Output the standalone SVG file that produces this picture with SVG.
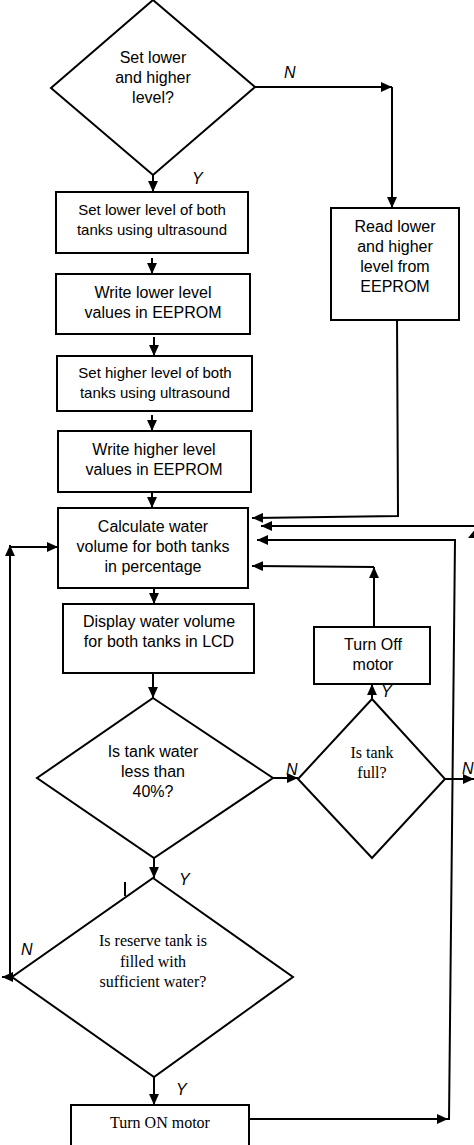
<svg xmlns="http://www.w3.org/2000/svg" width="474" height="1145" viewBox="0 0 474 1145">
<style>
.shape{fill:#fff;stroke:#000;stroke-width:2}
.t{font-family:"Liberation Sans",Arial,sans-serif;font-size:16px;fill:#000;text-anchor:middle}
.t15{font-size:15px}
.s{font-family:"Liberation Serif","Times New Roman",serif;font-size:16px;fill:#000;text-anchor:middle}
.lbl{font-family:"Liberation Sans",Arial,sans-serif;font-size:16px;font-style:italic;fill:#000}
.c{fill:none;stroke:#000;stroke-width:2}
</style>
<defs>
<marker id="a" viewBox="0 0 10 9" refX="10" refY="4.5" markerWidth="11" markerHeight="10" markerUnits="userSpaceOnUse" orient="auto">
<path d="M0,0 L10,4.5 L0,9 z" fill="#000"/>
</marker>
</defs>
<rect width="474" height="1145" fill="#fff"/>
<g id="connectors">
<path class="c" d="M153,175 L153,192" marker-end="url(#a)"/>
<path class="c" d="M255,87 L392,87" marker-end="url(#a)"/>
<path class="c" d="M392,87 L392,208" marker-end="url(#a)"/>
<path class="c" d="M152,258 L152,274" marker-end="url(#a)"/>
<path class="c" d="M154,337 L154,356" marker-end="url(#a)"/>
<path class="c" d="M152,415 L152,431" marker-end="url(#a)"/>
<path class="c" d="M152,492 L152,508" marker-end="url(#a)"/>
<path class="c" d="M397,315 L398,516 L252,518" marker-end="url(#a)"/>
<path class="c" d="M476,526 L261,526" marker-end="url(#a)"/>
<polygon points="476,528 468,538 484,538" fill="#000"/>
<path class="c" d="M445,779 L474,779" marker-end="url(#a)"/>
<path class="c" d="M449,1120 L455,540 L257,540" marker-end="url(#a)"/>
<path class="c" d="M374,627 L374,567" marker-end="url(#a)"/>
<path class="c" d="M374,567 L252,566" marker-end="url(#a)"/>
<path class="c" d="M10,977 L10,545" marker-end="url(#a)"/>
<path class="c" d="M10,547 L58,547" marker-end="url(#a)"/>
<path class="c" d="M154,588 L154,604" marker-end="url(#a)"/>
<path class="c" d="M153,673 L153,698" marker-end="url(#a)"/>
<path class="c" d="M273,778 L298,778" marker-end="url(#a)"/>
<path class="c" d="M372,699 L372,684" marker-end="url(#a)"/>
<path class="c" d="M154,858 L154,878" marker-end="url(#a)"/>
<path class="c" d="M12,977 L2,977" marker-end="url(#a)"/>
<path class="c" d="M154,1077 L154,1105" marker-end="url(#a)"/>
<path class="c" d="M249,1119 L448,1119" marker-end="url(#a)"/>
<path class="c" d="M125,882 L125,896" />
<text class="lbl" x="284" y="78">N</text>
<text class="lbl" x="192" y="184">Y</text>
<text class="lbl" x="286" y="775">N</text>
<text class="lbl" x="381" y="697">Y</text>
<text class="lbl" x="462" y="774">N</text>
<text class="lbl" x="179" y="885">Y</text>
<text class="lbl" x="21" y="955">N</text>
<text class="lbl" x="176" y="1095">Y</text>
</g>
<g id="d1">
<polygon class="shape" points="153,0 255,87 153,175 51,88"/>
<text class="t" x="153" y="63">Set lower</text>
<text class="t" x="153" y="83">and higher</text>
<text class="t" x="153" y="103">level?</text>
</g>
<g id="b1">
<rect class="shape" x="56" y="192" width="192" height="61"/>
<text class="t t15" x="152" y="215">Set lower level of both</text>
<text class="t t15" x="152" y="235">tanks using ultrasound</text>
</g>
<g id="b2">
<rect class="shape" x="56" y="274" width="194" height="60"/>
<text class="t" x="153" y="298">Write lower level</text>
<text class="t" x="153" y="318">values in EEPROM</text>
</g>
<g id="b3">
<rect class="shape" x="57" y="356" width="195" height="55"/>
<text class="t t15" x="155" y="378">Set higher level of both</text>
<text class="t t15" x="155" y="398">tanks using ultrasound</text>
</g>
<g id="b4">
<rect class="shape" x="58" y="431" width="193" height="61"/>
<text class="t" x="154" y="455">Write higher level</text>
<text class="t" x="154" y="475">values in EEPROM</text>
</g>
<g id="read">
<rect class="shape" x="331" y="208" width="128" height="112"/>
<text class="t" x="395" y="232">Read lower</text>
<text class="t" x="395" y="252">and higher</text>
<text class="t" x="395" y="272">level from</text>
<text class="t" x="395" y="292">EEPROM</text>
</g>
<g id="calc">
<rect class="shape" x="58" y="508" width="190" height="80"/>
<text class="t" x="153" y="532">Calculate water</text>
<text class="t" x="153" y="552">volume for both tanks</text>
<text class="t" x="153" y="572">in percentage</text>
</g>
<g id="display">
<rect class="shape" x="63" y="604" width="191" height="69"/>
<text class="t" x="159" y="627">Display water volume</text>
<text class="t" x="159" y="647">for both tanks in LCD</text>
</g>
<g id="turnoff">
<rect class="shape" x="314" y="627" width="116" height="57"/>
<text class="t" x="373" y="650">Turn Off</text>
<text class="t" x="373" y="670">motor</text>
</g>
<g id="d2">
<polygon class="shape" points="153,698 273,778 154,858 37,778"/>
<text class="t" x="153" y="757">Is tank water</text>
<text class="t" x="153" y="777">less than</text>
<text class="t" x="153" y="797">40%?</text>
</g>
<g id="d3">
<polygon class="shape" points="372,699 445,779 372,858 298,779"/>
<text class="s" x="372" y="758">Is tank</text>
<text class="s" x="372" y="778">full?</text>
</g>
<g id="d4">
<polygon class="shape" points="153,878 293,977 154,1077 12,977"/>
<text class="s" x="153" y="946">Is reserve tank is</text>
<text class="s" x="153" y="967">filled with</text>
<text class="s" x="153" y="987">sufficient water?</text>
</g>
<g id="turnon">
<rect class="shape" x="71" y="1105" width="178" height="60"/>
<text class="s" x="160" y="1128">Turn ON motor</text>
</g>
</svg>
